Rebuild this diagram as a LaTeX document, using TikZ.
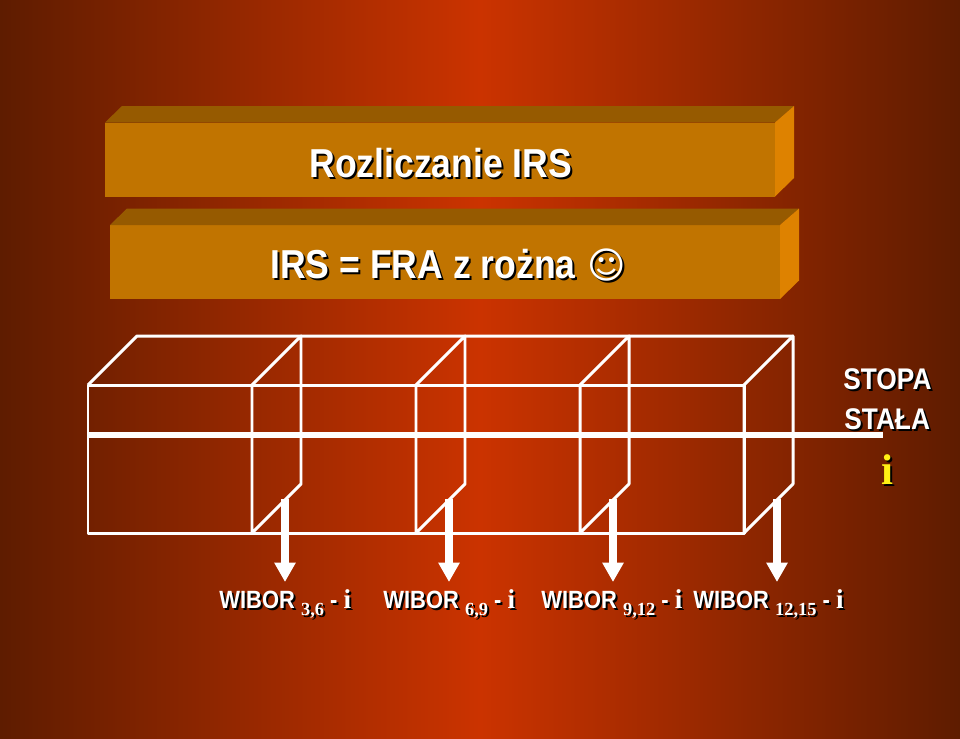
\documentclass[tikz,border=0pt]{standalone}
\usepackage{fontspec}
\setmainfont{Liberation Sans}
\newfontfamily\headfont[FakeStretch=0.88]{Liberation Sans}
\newfontfamily\subfont{Liberation Serif}
\newfontfamily\symbfont{DejaVu Sans}
\usetikzlibrary{arrows.meta,positioning,calc}
\definecolor{rust}{RGB}{94,28,0}
\definecolor{flame}{RGB}{203,51,0}
\definecolor{ochre}{RGB}{193,116,0}
\definecolor{ochretop}{RGB}{150,90,0}
\definecolor{ochreside}{RGB}{222,130,0}
\definecolor{lemon}{RGB}{255,240,20}
\newcommand{\shadowed}[5][white]{%
  \node[anchor=base west,text=black,font=#4,inner sep=0pt] (#2s) at ($(#3)+(2,2)$) {#5};
  \node[anchor=base west,text=#1,font=#4,inner sep=0pt] (#2) at (#3) {#5};}
\newcommand{\wibor}[1]{WIBOR {\subfont\bfseries\fontsize{10.5}{11}\selectfont\raisebox{-4pt}{#1}} - {\subfont\bfseries\fontsize{15.5}{15.5}\selectfont i}}
\tikzset{
  wire/.style={draw=white,line width=1.7pt,line join=round},
  payarrow/.style={draw=white,line width=4pt,-{Triangle[length=11pt,width=11.5pt]}},
  axisline/.style={draw=white,line width=3.8pt}
}
\begin{document}
\begin{tikzpicture}[x=0.02cm,y=-0.02cm]
    \useasboundingbox (0,0) rectangle (960,738);
    \shade[left color=rust,right color=rust,middle color=flame] (0,0) rectangle (960,738);
    % title bars
    \foreach \x/\y [count=\i] in {105/122.5,110/225}
    {
      \coordinate (f\i) at (\x,\y);
      \fill[ochre] (f\i) rectangle ++(670,74);
      \fill[ochretop] (f\i) -- ++(17,-16.5) -- ++(672,0) -- ++(-19,16.5) -- cycle;
      \fill[ochreside] ($(f\i)+(670,0)$) -- ++(19,-16.5) -- ++(0,72) -- ++(-19,18.5) -- cycle;
    }
    \coordinate (ptitle) at (309,177);
    \coordinate (psub) at (270,278);
    \shadowed{title}{ptitle}{\headfont\bfseries\fontsize{23}{24}\selectfont}{Rozliczanie IRS}
    \shadowed{subtitle}{psub}{\headfont\bfseries\fontsize{23}{24}\selectfont}{IRS = FRA z rożna}
    \shadowed{smile}{$(psub)+(317,0)$}{\symbfont\fontsize{21}{24}\selectfont}{☺}
    % wire box
    \coordinate (fa) at (88,385);
    \coordinate (fb) at (744,385);
    \coordinate (fc) at (744,533);
    \coordinate (fd) at (88,533);
    \coordinate (ba) at (137,336);
    \coordinate (bb) at (793,336);
    \draw[wire] (fa) -- (fb) -- (fc) -- (fd) -- cycle;
    \draw[wire] (fa) -- (ba) -- (bb);
    \foreach \x [count=\i] in {252,416,580,744}
    {
      \coordinate (s\i) at (\x,385);
      \coordinate (t\i) at (\x+49,336);
      \coordinate (u\i) at (\x+49,484);
      \coordinate (v\i) at (\x,533);
      \draw[wire] (s\i) -- (v\i) -- (u\i) -- (t\i) -- cycle;
      \coordinate (a\i) at (\x+33,499);
      \coordinate (e\i) at (\x+33,582);
      \draw[payarrow] (a\i) -- (e\i);
    }
    \coordinate (la) at (88,435);
    \coordinate (lb) at (883,435);
    \draw[axisline] (la) -- (lb);
    % labels
    \foreach \x/\s [count=\i] in {219/{3,6},383/{6,9},541/{9,12},693/{12,15}}
    {
      \coordinate (w\i) at (\x,608);
      \shadowed{lab\i}{w\i}{\headfont\bfseries\fontsize{14.2}{16}\selectfont}{\wibor{\s}}
    }
    \coordinate (pa) at (843,389);
    \coordinate (pb) at (844,429);
    \coordinate (pc) at (881,484);
    \shadowed{stopa}{pa}{\headfont\bfseries\fontsize{17}{18}\selectfont}{STOPA}
    \shadowed{stala}{pb}{\headfont\bfseries\fontsize{17}{18}\selectfont}{STAŁA}
    \shadowed[lemon]{fixed}{pc}{\subfont\bfseries\fontsize{24.5}{26}\selectfont}{i}
  \end{tikzpicture}
\end{document}
